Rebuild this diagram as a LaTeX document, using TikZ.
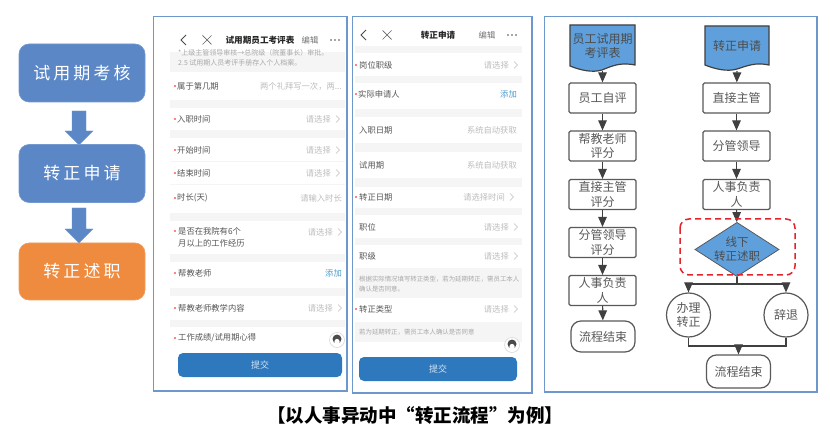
\documentclass[tikz,border=0pt]{standalone}
\usepackage{fontspec}
\setmainfont{Noto Sans CJK SC}
\newfontfamily\widecjk[LetterSpace=18]{Noto Sans CJK SC}
\usetikzlibrary{arrows.meta,shapes.geometric}
\definecolor{stepblue}{HTML}{5B87C6}
\definecolor{steporange}{HTML}{EE8B3F}
\definecolor{framec}{HTML}{6E98CB}
\definecolor{bandc}{HTML}{F5F5F5}
\definecolor{labelc}{HTML}{555555}
\definecolor{hintc}{HTML}{BDBDBD}
\definecolor{notec}{HTML}{A8A8A8}
\definecolor{addc}{HTML}{4E9CCB}
\definecolor{btnc}{HTML}{2E78BE}
\definecolor{flowc}{HTML}{595959}
\definecolor{flowfill}{HTML}{5FA0DC}
\definecolor{redc}{HTML}{E3242B}
\tikzset{
  x=1pt,y=-1pt,
  sz/.style={font=\fontsize{#1}{12}\selectfont},
  stepbox/.style={rectangle,rounded corners=10pt,minimum width=126pt,minimum height=58pt,inner sep=0pt,text=white,draw=stepblue!85!white,fill=stepblue,line width=.6pt,font=\fontsize{17}{20}\widecjk},
  blockarrow/.style={fill=stepblue,draw=stepblue!85!white,line width=.4pt},
  panel/.style={draw=framec,line width=1.4pt,fill=white},
  band/.style={fill=bandc,draw=none},
  rowl/.style={anchor=west,inner sep=0pt,text=labelc,sz=8.3,align=left},
  rowr/.style={anchor=east,inner sep=0pt,text=hintc,sz=8.3},
  addl/.style={anchor=east,inner sep=0pt,text=addc,sz=8.3},
  notet/.style={anchor=west,inner sep=0pt,text=notec,sz=6.4},
  titlet/.style={inner sep=0pt,text=black!85,font=\fontsize{8.6}{10}\selectfont\bfseries},
  redstar/.style={circle,fill=red!65!white,inner sep=0pt,minimum size=2.2pt},
  chev/.style={draw=hintc,line width=.6pt},
  iconl/.style={draw=black!70,line width=.9pt},
  btn/.style={rectangle,rounded corners=5pt,fill=btnc,text=white!80!btnc,inner sep=0pt,sz=9},
  flowbox/.style={rectangle,rounded corners=1.5pt,draw=flowc,line width=1.2pt,fill=white,text=flowc,inner sep=0pt,minimum width=67pt,minimum height=30pt,align=center,font=\fontsize{12}{14.5}\selectfont},
  flowend/.style={flowbox,rounded corners=10pt},
  flowdoc/.style={draw=black!75,line width=1.2pt,fill=flowfill},
  flowtext/.style={inner sep=0pt,minimum width=64pt,minimum height=36pt,text=black!70,align=center,font=\fontsize{12}{14.5}\selectfont},
  flowcircle/.style={circle,draw=flowc,line width=1.2pt,fill=white,text=flowc,inner sep=0pt,minimum size=44pt,align=center,font=\fontsize{12}{14.5}\selectfont},
  flowdia/.style={diamond,draw=flowc,line width=.8pt,fill=flowfill,inner sep=0pt,minimum width=77pt,minimum height=50pt,aspect=1.55,text=black!70,align=center,font=\fontsize{11.5}{14}\selectfont},
  flowarrow/.style={draw=black!75,line width=1.1pt,-{Triangle[length=10pt,width=8.5pt]}},
  flowline/.style={draw=black!75,line width=1.1pt},
}
\newcommand{\pick}[4]{% name, right edge, y, text
  \node[rowr] (#1) at (#2,#3) {#4};
  \draw[chev] (#2+5,#3-3.5) -- (#2+8.5,#3) -- (#2+5,#3+3.5);
}
\newcommand{\phonetop}[3]{% x chevron, x cross, y
  \draw[iconl] (#1+3,#3-5) -- (#1-2,#3) -- (#1+3,#3+5);
  \draw[draw=black!60,line width=.7pt] (#2-4.5,#3-4.5) -- (#2+4.5,#3+4.5) (#2-4.5,#3+4.5) -- (#2+4.5,#3-4.5);
}
\newcommand{\threedots}[2]{%
  \fill[black!70] (#1-4,#2) circle (.9pt) (#1,#2) circle (.9pt) (#1+4,#2) circle (.9pt);
}
\newcommand{\avatar}[2]{%
  \fill[white,draw=black!15,line width=.6pt] (#1,#2) circle (7.5pt);
  \fill[black!70] (#1,#2-1) circle (4.5pt);
  \fill[white] (#1,#2+1.5) circle (2.6pt);
}
\begin{document}
\begin{tikzpicture}
\useasboundingbox (0,0) rectangle (830,438);
\fill[white] (0,0) rectangle (830,438);

% left column
\node[stepbox] (s1) at (82,73) {试用期考核};
\node[stepbox] (s2) at (82,173.5) {转正申请};
\node[stepbox,fill=steporange,draw=steporange!85!white,minimum height=57pt] (s3) at (82,271.5) {转正述职};
\draw[blockarrow] (72,111) -- (86,111) -- (86,131) -- (93,131) -- (79,145) -- (65,131) -- (72,131) -- cycle;
\draw[blockarrow] (72,208) -- (86,208) -- (86,229) -- (93,229) -- (79,243) -- (65,229) -- (72,229) -- cycle;

% panel 1
\draw[panel] (153.5,16.5) rectangle (347,391);
\fill[band] (170,52) rectangle (345,72);
\fill[band] (170,100) rectangle (345,108);
\fill[band] (170,130) rectangle (345,138);
\fill[band] (170,161) rectangle (345,162);
\fill[band] (170,184) rectangle (345,185);
\fill[band] (170,213) rectangle (345,221);
\fill[band] (170,254) rectangle (345,262);
\fill[band] (170,288) rectangle (345,296);
\fill[band] (170,320) rectangle (345,327);
\phonetop{183}{207}{40}
\node[titlet] (p1t) at (260,40) {试用期员工考评表};
\node[inner sep=0pt,text=black!55,sz=8.3] (p1e) at (310,40) {编辑};
\threedots{335}{40}
\node[notet,sz=7] (p1n1) at (178,53) {*上级主管领导审核→总院级（院董事长）审批。};
\node[notet,sz=7] (p1n2) at (178,63) {2.5 试用期人员考评手册存入个人档案。};
\node[redstar] (p1a) at (175,86) {};
\node[rowl] (p1b) at (177,86) {属于第几期};
\node[rowr] (p1c) at (342,86) {两个礼拜写一次，两...};
\node[redstar] (p1d) at (175,119) {};
\node[rowl] (p1e2) at (177,119) {入职时间};
\pick{p1f}{331}{119}{请选择}
\node[redstar] (p1g) at (175,150) {};
\node[rowl] (p1h) at (177,150) {开始时间};
\pick{p1i}{331}{150}{请选择}
\node[redstar] (p1j) at (175,173) {};
\node[rowl] (p1k) at (177,173) {结束时间};
\pick{p1l}{331}{173}{请选择}
\node[redstar] (p1m) at (175,198) {};
\node[rowl] (p1o) at (177,198) {时长(天)};
\node[rowr] (p1p) at (342,198) {请输入时长};
\node[redstar] (p1q) at (175,231) {};
\node[rowl] (p1r) at (178,231) {是否在我院有6个};
\node[rowl] (p1s) at (178,243) {月以上的工作经历};
\pick{p1t2}{333}{232}{请选择}
\node[redstar] (p1u) at (175,273) {};
\node[rowl] (p1v) at (178,273) {帮教老师};
\node[addl] (p1w) at (342,273) {添加};
\node[redstar] (p1x) at (175,308) {};
\node[rowl] (p1y) at (178,308) {帮教老师教学内容};
\pick{p1z}{333}{308}{请选择}
\node[redstar] (p1aa) at (175,338) {};
\node[rowl] (p1ab) at (178,338) {工作成绩/试用期心得};
\avatar{337}{340}
\node[btn,minimum width=164pt,minimum height=24pt] (p1btn) at (260,365) {提交};

% panel 2
\draw[panel] (352.5,16.5) rectangle (532,393);
\fill[band] (355,46) rectangle (522,53);
\fill[band] (355,76) rectangle (522,83);
\fill[band] (355,109) rectangle (522,117);
\fill[band] (355,143) rectangle (522,152);
\fill[band] (355,178) rectangle (522,187);
\fill[band] (355,208) rectangle (522,215);
\fill[band] (355,238) rectangle (522,245);
\fill[band] (355,268) rectangle (522,298);
\fill[band] (355,322) rectangle (522,342);
\phonetop{363}{387}{35}
\node[titlet] (p2t) at (438,35) {转正申请};
\node[inner sep=0pt,text=black!55,sz=8.3] (p2e) at (487,35) {编辑};
\threedots{512}{35}
\node[redstar] (p2a) at (356,65) {};
\node[rowl] (p2b) at (359,65) {岗位职级};
\pick{p2c}{509}{65}{请选择}
\node[redstar] (p2d) at (356,94) {};
\node[rowl] (p2f) at (358,94) {实际申请人};
\node[addl] (p2g) at (517,94) {添加};
\node[rowl] (p2h) at (359,130) {入职日期};
\node[rowr] (p2i) at (517,130) {系统自动获取};
\node[rowl] (p2j) at (359,165) {试用期};
\node[rowr] (p2k) at (517,165) {系统自动获取};
\node[redstar] (p2l) at (356,197) {};
\node[rowl] (p2m) at (359,197) {转正日期};
\pick{p2n}{505}{197}{请选择时间}
\node[rowl] (p2o) at (359,227) {职位};
\pick{p2p}{509}{227}{请选择}
\node[rowl] (p2q) at (359,256) {职级};
\pick{p2r}{509}{256}{请选择}
\node[notet] (p2s) at (359,279) {根据实际情况填写转正类型，若为延期转正，需员工本人};
\node[notet] (p2u) at (359,289) {确认是否同意。};
\node[redstar] (p2v) at (356,309) {};
\node[rowl] (p2w) at (359,309) {转正类型};
\pick{p2x}{509}{309}{请选择}
\node[notet] (p2y) at (359,332) {若为延期转正，需员工本人确认是否同意};
\avatar{512}{345}
\node[btn,minimum width=158pt,minimum height=24pt] (p2btn) at (438,369) {提交};

% panel 3
\draw[panel] (544.5,16.5) rectangle (817,392);

% flow left
\draw[flowdoc] (570,25) -- (635,25) -- (635,65) .. controls (620,62) and (612,66) .. (602,70) .. controls (592,73) and (580,70) .. (570,66) -- cycle;
\node[flowtext] (d1) at (602.5,46) {员工试用期\\考评表};
\coordinate (d1b) at (602.5,71);
\node[flowbox] (a1) at (602.5,98) {员工自评};
\node[flowbox] (a2) at (602.5,146) {帮教老师\\评分};
\node[flowbox] (a3) at (602.5,194.5) {直接主管\\评分};
\node[flowbox] (a4) at (602.5,242.5) {分管领导\\评分};
\node[flowbox] (a5) at (602.5,290.5) {人事负责\\人};
\node[flowend,minimum width=64pt,minimum height=31pt] (a6) at (603,336.5) {流程结束};
\draw[flowarrow] (d1b) -- (a1);
\draw[flowarrow] (a1) -- (a2);
\draw[flowarrow] (a2) -- (a3);
\draw[flowarrow] (a3) -- (a4);
\draw[flowarrow] (a4) -- (a5);
\draw[flowarrow] (a5) -- (a6);

% flow right
\draw[flowdoc] (705,26) -- (769,26) -- (769,65) .. controls (755,62) and (747,66) .. (737,69) .. controls (727,72) and (715,69) .. (705,65) -- cycle;
\node[flowtext] (d2) at (737,46) {转正申请};
\coordinate (d2b) at (737,71);
\node[flowbox] (b1) at (736.5,98) {直接主管};
\node[flowbox] (b2) at (736.5,146) {分管领导};
\node[flowbox] (b3) at (736.5,194.5) {人事负责\\人};
\node[flowdia] (b4) at (737,249.5) {线下\\转正述职};
\node[flowcircle] (c1) at (688.5,315) {办理\\转正};
\node[flowcircle] (c2) at (786,315) {辞退};
\node[flowend,minimum width=64pt,minimum height=33pt] (b5) at (738.5,371.5) {流程结束};
\draw[flowarrow] (d2b) -- (b1);
\draw[flowarrow] (b1) -- (b2);
\draw[flowarrow] (b2) -- (b3);
\draw[flowarrow] (b3) -- (b4);
\coordinate (sp) at (737,284);
\coordinate (jn) at (738.5,346);
\draw[flowline] (b4) -- (sp);
\draw[flowarrow] (sp) -| (c1);
\draw[flowarrow] (sp) -| (c2);
\draw[flowline] (c1) |- (jn);
\draw[flowline] (c2) |- (jn);
\draw[flowarrow] (jn) -- (b5);
\draw[redc,line width=1.5pt,dash pattern=on 6pt off 4pt,rounded corners=9pt] (680,219) rectangle (795,275);

% caption
\node[inner sep=0pt,text=black,font=\fontsize{18.5}{22}\selectfont\bfseries] (cap) at (415,415) {【以人事异动中“转正流程”为例】};
\end{tikzpicture}
\end{document}
